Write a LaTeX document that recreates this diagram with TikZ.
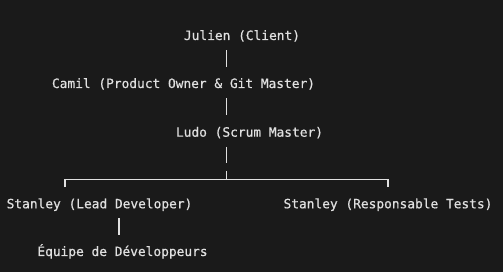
\documentclass[tikz,border=0pt]{standalone}
\usepackage{fontspec}
\setmonofont[FakeBold=0.6]{DejaVu Sans Mono}
\usepackage{xcolor}
\usepackage{tikz}
\usetikzlibrary{calc}

\definecolor{termbg}{HTML}{1A1A1A}
\definecolor{termfg}{HTML}{E0E0E0}

\tikzset{
  role/.style={anchor=base, inner xsep=0pt, inner ysep=7pt,
    text height=14pt, text depth=3pt, text=termfg,
    font=\ttfamily\fontsize{12.85}{16}\selectfont},
  bar/.style={draw=termfg, line width=1.1pt}
}

\begin{document}
\begin{tikzpicture}[x=1pt,y=-1pt]
  % background
  \fill[termbg] (0,0) rectangle (503,272);
  \useasboundingbox (0,0) rectangle (503,272);

  % Drawing roles
  \node[role] (julien) at (242,40)    {Julien (Client)};
  \node[role] (camil)  at (183.5,88)  {Camil (Product Owner \& Git Master)};
  \node[role] (ludo)   at (249.5,136.7) {Ludo (Scrum Master)};
  \node[role] (lead)   at (99.5,208.3) {Stanley (Lead Developer)};
  \node[role] (tests)  at (388,208.3) {Stanley (Responsable Tests)};
  \node[role] (equipe) at (122.5,256) {Équipe de Développeurs};

  % Trunk and fork points
  \coordinate (trunk) at (226.5,0);
  \coordinate (fork)  at (226.5,179.3);
  \coordinate (forkl) at (65,179.3);
  \coordinate (forkr) at (388,179.3);
  \coordinate (devs)  at (119,0);

  % Drawing trunk
  \draw[bar] (julien.south -| trunk) -- (camil.north -| trunk);
  \draw[bar] (camil.south -| trunk) -- (ludo.north -| trunk);
  \draw[bar] (ludo.south -| trunk) -- ++(0,16.5);
  \draw[bar] ([yshift=8.5pt]fork) -- (fork);

  % Drawing fork
  \draw[bar] (lead.north -| forkl) -- (forkl) -- (forkr) -- (tests.north -| forkr);

  % Drawing team line
  \draw[bar] (lead.south -| devs) -- (equipe.north -| devs);
\end{tikzpicture}
\end{document}
